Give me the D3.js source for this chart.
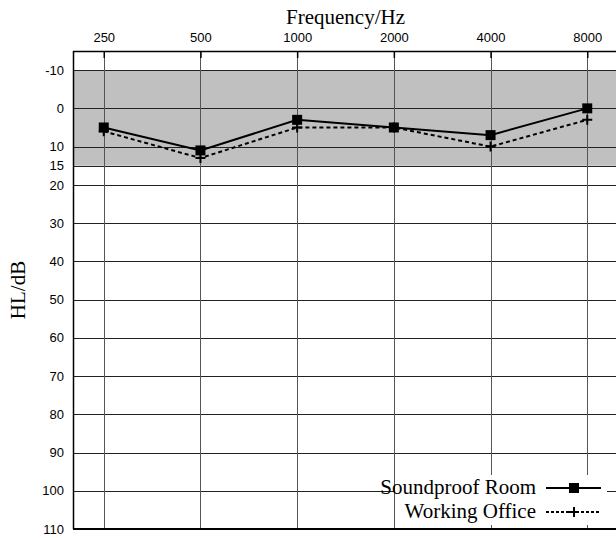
<!DOCTYPE html>
<html>
<head>
<meta charset="utf-8">
<script src="https://cdn.jsdelivr.net/npm/d3@7"></script>
<style>
  html, body { margin: 0; padding: 0; background: #fff; }
  svg { display: block; }
</style>
</head>
<body>
<div id="container"></div>
<script>
/* CONSTANTS AND GLOBALS */
const width = 616,
  height = 538,
  margin = { top: 51, bottom: 9, left: 73, right: -2 };

// data
const frequencies = [250, 500, 1000, 2000, 4000, 8000];
const soundproofRoom = [5, 11, 3, 5, 7, 0];
const workingOffice = [6, 13, 5, 5, 10, 3];
const yTicks = [-10, 0, 10, 15, 20, 30, 40, 50, 60, 70, 80, 90, 100, 110];
const normalBand = [-10, 15];
const seriesNames = ["Soundproof Room", "Working Office"];

const serif = "'Liberation Serif', 'Times New Roman', serif",
  sans = "'Liberation Sans', Arial, sans-serif";

let xScale, yScale;

function init() {
  // log2 scale, frequencies one octave apart
  xScale = d3.scaleLog()
    .base(2)
    .domain([250 / Math.pow(2, 0.318), 8000 * Math.pow(2, 0.318)])
    .range([margin.left, width - margin.right]);

  yScale = d3.scaleLinear()
    .domain([-15, 110])
    .range([margin.top, height - margin.bottom]);

  draw();
}

function draw() {
  const svg = d3.select("#container")
    .append("svg")
    .attr("width", width)
    .attr("height", height);

  const x0 = margin.left, x1 = width - margin.right,
    y0 = margin.top, y1 = height - margin.bottom;

  // grey normal-hearing band
  svg.append("rect")
    .attr("x", x0)
    .attr("y", yScale(normalBand[0]))
    .attr("width", x1 - x0)
    .attr("height", yScale(normalBand[1]) - yScale(normalBand[0]))
    .attr("fill", "#c0c0c0");

  // horizontal grid
  svg.append("g")
    .selectAll("line")
    .data(yTicks)
    .join("line")
    .attr("x1", x0)
    .attr("x2", x1)
    .attr("y1", d => Math.round(yScale(d)) + 0.5)
    .attr("y2", d => Math.round(yScale(d)) + 0.5)
    .attr("stroke", "#222")
    .attr("stroke-width", 1);

  // vertical grid
  svg.append("g")
    .selectAll("line")
    .data(frequencies)
    .join("line")
    .attr("x1", d => Math.round(xScale(d)) + 0.5)
    .attr("x2", d => Math.round(xScale(d)) + 0.5)
    .attr("y1", y0)
    .attr("y2", y1)
    .attr("stroke", "#555")
    .attr("stroke-width", 1);

  // frame
  svg.append("line").attr("x1", x0).attr("x2", x1).attr("y1", y0 + 0.5).attr("y2", y0 + 0.5)
    .attr("stroke", "#000").attr("stroke-width", 1.5);
  svg.append("line").attr("x1", x0).attr("x2", x1).attr("y1", y1).attr("y2", y1)
    .attr("stroke", "#000").attr("stroke-width", 2);
  svg.append("line").attr("x1", x0 + 0.5).attr("x2", x0 + 0.5).attr("y1", y0).attr("y2", y1)
    .attr("stroke", "#000").attr("stroke-width", 1.5);

  // x axis on top, short inward ticks
  const xAxis = d3.axisTop(xScale)
    .tickValues(frequencies)
    .tickFormat(d => String(d))
    .tickSizeInner(-7)
    .tickSizeOuter(0)
    .tickPadding(9);
  const gx = svg.append("g")
    .attr("transform", `translate(0, ${y0})`)
    .call(xAxis);
  gx.select(".domain").remove();
  gx.selectAll(".tick line")
    .attr("stroke", "#000")
    .attr("stroke-width", 1.5);
  gx.selectAll("text")
    .style("font-family", sans)
    .style("font-size", "13px")
    .attr("fill", "#000");

  // y axis
  const yAxis = d3.axisLeft(yScale)
    .tickValues(yTicks)
    .tickFormat(d => String(d))
    .tickSize(0)
    .tickPadding(9);
  const gy = svg.append("g")
    .attr("transform", `translate(${x0}, 0)`)
    .call(yAxis);
  gy.select(".domain").remove();
  gy.selectAll("text")
    .style("font-family", sans)
    .style("font-size", "13px")
    .attr("fill", "#000");

  // axis titles
  svg.append("text")
    .attr("x", (x0 + x1) / 2)
    .attr("y", 24)
    .attr("text-anchor", "middle")
    .style("font-family", serif)
    .style("font-size", "21px")
    .text("Frequency/Hz");

  svg.append("text")
    .attr("transform", `translate(25, ${(y0 + y1) / 2}) rotate(-90)`)
    .attr("text-anchor", "middle")
    .style("font-family", serif)
    .style("font-size", "21px")
    .text("HL/dB");

  // series
  const line = d3.line()
    .x(d => xScale(d.f))
    .y(d => yScale(d.v));

  const office = frequencies.map((f, i) => ({ f: f, v: workingOffice[i] }));
  const room = frequencies.map((f, i) => ({ f: f, v: soundproofRoom[i] }));

  svg.append("path")
    .datum(office)
    .attr("d", line)
    .attr("fill", "none")
    .attr("stroke", "#000")
    .attr("stroke-width", 2)
    .attr("stroke-dasharray", "4,3");

  svg.append("g")
    .selectAll("path")
    .data(office)
    .join("path")
    .attr("d", d => plusPath(xScale(d.f), yScale(d.v), 5))
    .attr("stroke", "#000")
    .attr("stroke-width", 2);

  svg.append("path")
    .datum(room)
    .attr("d", line)
    .attr("fill", "none")
    .attr("stroke", "#000")
    .attr("stroke-width", 2);

  svg.append("g")
    .selectAll("rect")
    .data(room)
    .join("rect")
    .attr("x", d => xScale(d.f) - 5)
    .attr("y", d => yScale(d.v) - 5)
    .attr("width", 10)
    .attr("height", 10)
    .attr("fill", "#000");

  // legend with opaque background
  const legend = svg.append("g");
  legend.append("rect")
    .attr("x", 395)
    .attr("y", 475)
    .attr("width", 212)
    .attr("height", 50)
    .attr("fill", "#fff");

  const rows = [
    { name: seriesNames[0], y: 488, dash: null, marker: "square" },
    { name: seriesNames[1], y: 512, dash: "3,2", marker: "plus" }
  ];
  rows.forEach(r => {
    legend.append("text")
      .attr("x", 536)
      .attr("y", r.y + 6)
      .attr("text-anchor", "end")
      .style("font-family", serif)
      .style("font-size", "21px")
      .text(r.name);
    legend.append("line")
      .attr("x1", 546).attr("x2", 601)
      .attr("y1", r.y).attr("y2", r.y)
      .attr("stroke", "#000")
      .attr("stroke-width", 2)
      .attr("stroke-dasharray", r.dash);
    if (r.marker === "square") {
      legend.append("rect")
        .attr("x", 569).attr("y", r.y - 5)
        .attr("width", 10).attr("height", 10)
        .attr("fill", "#000");
    } else {
      legend.append("path")
        .attr("d", plusPath(574, r.y, 5))
        .attr("stroke", "#000")
        .attr("stroke-width", 2);
    }
  });
}

function plusPath(cx, cy, r) {
  return `M${cx - r},${cy}H${cx + r}M${cx},${cy - r}V${cy + r}`;
}

init();
</script>
</body>
</html>
